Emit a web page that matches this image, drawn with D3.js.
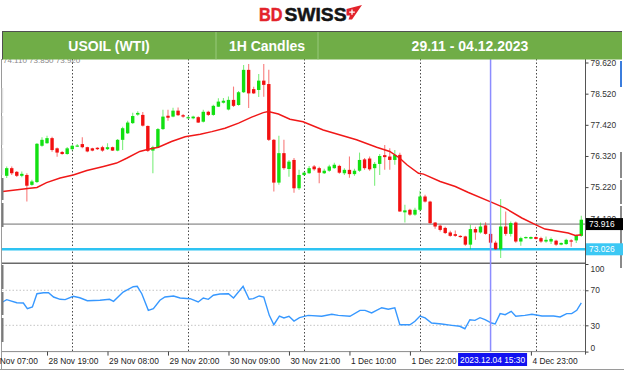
<!DOCTYPE html>
<html>
<head>
<meta charset="utf-8">
<script src="https://cdnjs.cloudflare.com/ajax/libs/d3/7.8.5/d3.min.js"></script>
<style>
  body { margin:0; background:#fff; }
</style>
</head>
<body>
<div id="chart"></div>
<script>
// USOIL (WTI) 1H candles, 28.11 - 05.12.2023

const headerCells = ["USOIL (WTI)", "1H Candles", "29.11 - 04.12.2023"];

const candleOpen = [75.62,75.89,75.76,75.62,75.65,75.30,75.40,76.68,76.77,76.95,76.59,76.46,76.39,76.56,76.66,76.74,76.63,76.59,76.61,76.63,
  76.56,76.63,76.51,76.89,77.12,77.48,77.78,77.77,77.38,76.51,76.63,77.27,77.74,77.71,77.92,77.76,77.67,77.65,77.69,77.53,
  77.88,77.77,78.06,78.20,77.96,78.30,78.12,78.57,79.36,78.68,78.65,78.98,78.86,76.89,75.38,76.42,75.86,76.18,75.18,75.65,
  75.71,75.95,75.89,75.71,75.80,75.89,75.97,75.71,75.83,75.68,75.80,76.20,76.23,75.89,76.04,76.35,76.30,76.18,76.36,74.33,
  74.42,74.25,74.42,74.89,74.71,73.97,73.86,73.78,73.62,73.56,73.50,73.48,73.19,73.74,73.62,73.87,73.57,73.26,73.03,73.83,
  73.57,73.97,73.30,73.42,73.40,73.46,73.42,73.30,73.30,73.33,73.19,73.21,73.34,73.34,73.50];
const candleHigh = [75.95,75.95,75.79,75.77,75.71,75.48,76.78,76.98,77.03,77.00,76.62,76.50,76.64,76.71,76.74,76.98,76.65,76.61,76.63,76.68,
  76.77,76.65,76.92,77.35,77.56,77.85,77.90,77.87,77.40,76.68,77.31,77.95,77.95,78.02,78.03,77.80,77.72,77.74,77.72,77.95,
  77.92,78.13,78.36,78.37,78.42,78.77,78.61,79.53,79.57,78.76,79.21,79.57,79.36,76.92,77.03,76.89,76.18,76.25,75.83,75.76,
  75.97,76.00,75.94,75.87,76.01,76.08,76.01,75.89,76.30,75.87,76.44,76.25,76.30,76.11,76.39,76.71,76.59,76.53,76.43,74.60,
  74.46,74.49,75.09,74.95,74.74,73.99,73.89,73.82,73.68,73.69,73.52,73.50,73.89,73.82,73.97,73.98,73.75,73.33,74.80,74.36,
  74.01,74.01,73.47,73.48,73.48,73.48,73.47,73.48,73.44,73.36,73.27,73.40,73.38,73.54,74.21];
const candleLow = [75.54,75.65,75.58,75.57,74.71,75.27,75.37,76.65,76.75,76.47,76.29,76.36,76.36,76.51,76.65,76.59,76.45,76.49,76.53,76.47,
  76.53,76.50,76.49,76.53,77.10,77.45,77.74,77.36,76.46,75.71,76.61,77.24,77.56,77.69,77.73,77.67,77.64,77.62,77.48,77.50,
  77.73,77.74,78.05,78.17,77.93,78.05,78.09,78.54,78.01,78.51,78.40,78.41,76.85,75.07,75.30,75.83,75.59,75.02,75.12,75.62,
  75.69,75.80,75.36,75.68,75.76,75.87,75.69,75.65,75.55,75.62,75.76,75.83,75.80,75.27,75.65,75.83,75.83,76.01,74.35,73.97,
  74.21,74.21,74.36,74.68,73.93,73.75,73.65,73.57,73.47,73.47,73.43,73.15,73.03,73.36,73.58,73.54,73.22,73.01,72.72,73.50,
  73.48,73.26,73.15,73.40,73.38,73.37,73.26,73.26,73.21,73.15,73.17,73.19,73.12,73.25,73.47];
const candleClose = [75.89,75.71,75.62,75.69,75.27,75.42,76.75,76.89,76.95,76.53,76.44,76.39,76.59,76.68,76.69,76.63,76.48,76.51,76.56,76.51,
  76.63,76.51,76.89,77.30,77.50,77.73,77.84,77.39,76.50,76.63,77.27,77.71,77.67,77.92,77.76,77.71,77.69,77.71,77.50,77.88,
  77.77,78.09,78.24,78.27,78.30,78.09,78.57,79.36,78.53,78.53,78.98,78.83,76.89,75.38,76.42,75.89,76.12,75.18,75.65,75.73,
  75.89,75.85,75.73,75.80,75.95,76.01,75.73,75.83,75.68,75.80,76.18,75.89,75.85,76.04,76.32,76.28,76.18,76.36,74.36,74.40,
  74.25,74.42,74.89,74.71,73.95,73.83,73.71,73.60,73.50,73.50,73.46,73.19,73.74,73.62,73.83,73.57,73.26,73.03,73.83,73.57,
  73.95,73.30,73.42,73.46,73.46,73.39,73.30,73.36,73.39,73.19,73.25,73.36,73.32,73.50,74.07];

// red moving average (candle index, price)
const maIdx = [-0.8,4.6,6,7.9,10.6,13.2,15.9,19.2,21.8,23.8,26.4,28.1,30.1,32.7,35.4,38.4,40.7,43.3,46,48.6,
  50.9,51.9,53.9,56.2,58.8,62.8,69.4,73.4,76,78,79.4,81.7,82.7,86,89,91.6,95.9,98.9,102.2,105,106.8,111.4,112.8,114];
const maVal = [75.07,75.18,75.21,75.38,75.54,75.65,75.81,75.95,76.07,76.24,76.48,76.56,76.63,76.83,77.00,77.09,77.18,77.30,77.48,77.69,
  77.85,77.89,77.80,77.62,77.53,77.24,76.89,76.63,76.48,76.24,76.01,75.71,75.68,75.42,75.24,75.03,74.71,74.48,74.13,73.89,73.74,73.60,73.51,73.54];

// RSI panel, points (candle index, value)
const rsiIdx = [-0.8,0,2,3.3,4.1,5.1,6,7.3,8.3,9.3,10.6,11.6,13.2,14.5,16,18.5,20.4,21.2,23.1,25.1,
  25.9,26.8,28.1,29.1,30.4,31.4,33.1,34.4,36.4,38,39,40,41,42.3,44,45,46.9,48.1,48.9,50.1,
  51,52.1,53,54.1,55,56,57,58.1,59.8,62.5,64.5,65.8,68.1,70.1,71.1,72.4,74.4,75.7,77,78,
  80,81,82,83,84.3,86.3,88.3,89.9,90.9,91.9,92.9,93.9,94.9,96.2,96.9,97.9,98.9,100.1,101,102.8,
  104.2,106.2,108.5,109.8,111.1,112.1,113.1,114];
const rsiVal = [56.6,59.3,55.8,55.5,49.0,50.9,66.1,67.2,67.2,62.3,59.7,59.3,63.1,61.5,58.1,58.6,59.7,57.4,68.0,74.1,
  74.5,66.1,47.1,49.0,58.6,62.3,63.5,61.2,60.4,56.6,61.2,59.7,64.3,65.8,66.1,61.2,74.5,59.7,60.4,63.5,
  62.3,41.4,30.7,40.6,38.4,40.3,34.9,38.7,41.4,40.3,42.6,41.4,40.3,47.1,47.1,44.1,50.1,48.3,50.1,30.7,
  30.7,34.6,40.6,38.4,32.6,31.5,30.0,28.9,26.1,36.4,35.7,38.7,36.4,32.6,31.5,43.3,42.1,46.0,40.3,41.4,
  42.6,40.6,40.6,39.5,43.3,43.3,47.1,55.5];

const priceTicks = [79.62, 78.52, 77.42, 76.32, 75.22, 74.12];
const rsiTicks = [100, 70, 30, 0];
const rsiLevels = [70, 30];
const lastPrice = 73.916;
const levelPrice = 73.026;
const ohlcInfo = "74.110 73.850 73.920";

const dayIdx = [13, 36, 59, 82, 105];
const timeIdx = [-4, 8, 20, 32, 44, 56, 68, 80, 104];
const timeLabels = ["28 Nov 07:00","28 Nov 19:00","29 Nov 08:00","29 Nov 20:00","30 Nov 09:00",
  "30 Nov 21:00","1 Dec 10:00","1 Dec 22:00","4 Dec 23:00"];
const crossIdx = 96;
const crossLabel = "2023.12.04 15:30";

// ---- layout
const W = 624, H = 375;
const L = 2, R = 585, mainT = 59, mainB = 263, rsiT = 264, rsiB = 351.6;
const FONT = "'Liberation Sans', Arial, sans-serif";
const UP = "#12e012", DN = "#f21010";

const svg = d3.select("#chart").append("svg")
  .attr("width", W).attr("height", H)
  .style("display","block").style("font-family", FONT);

svg.append("rect").attr("width",W).attr("height",H).attr("fill","#fff");

const defs = svg.append("defs");
defs.append("clipPath").attr("id","clipMain").append("rect")
  .attr("x",L).attr("y",mainT).attr("width",R-L).attr("height",mainB-mainT);
defs.append("clipPath").attr("id","clipRsi").append("rect")
  .attr("x",L).attr("y",rsiT).attr("width",R-L).attr("height",rsiB-rsiT);

const x = d3.scaleLinear().domain([0, 114]).range([6.7, 581.3]);
const y = d3.scaleLinear().domain([74.12, 79.62]).range([218.3, 62.5]);
const yR = d3.scaleLinear().domain([0, 100]).range([rsiB, rsiT]);

// small ohlc readout, half hidden under the header bar
svg.append("text").attr("x",3).attr("y",63).attr("fill","#8a8a8a")
  .style("font-size","8px").text(ohlcInfo);

// day separators
svg.append("g").selectAll("line").data(dayIdx).join("line")
  .attr("x1",d=>Math.round(x(d))+0.5).attr("x2",d=>Math.round(x(d))+0.5)
  .attr("y1",mainT).attr("y2",rsiB)
  .attr("stroke","#4a4a4a").attr("stroke-width",1).attr("stroke-dasharray","1.5,2");

// rsi dotted levels
svg.append("g").selectAll("line").data(rsiLevels).join("line")
  .attr("x1",L).attr("x2",R).attr("y1",d=>yR(d)).attr("y2",d=>yR(d))
  .attr("stroke","#c4c4c4").attr("stroke-dasharray","1.5,2");

const main = svg.append("g").attr("clip-path","url(#clipMain)");

// price lines
main.append("line").attr("x1",L).attr("x2",R).attr("y1",y(lastPrice)).attr("y2",y(lastPrice))
  .attr("stroke","#6e6e6e").attr("stroke-width",1);
main.append("line").attr("x1",L).attr("x2",R).attr("y1",y(levelPrice)).attr("y2",y(levelPrice))
  .attr("stroke","#2ec3f2").attr("stroke-width",2.6);

const candles = candleOpen.map((o,i)=>({i, o, h:candleHigh[i], l:candleLow[i], c:candleClose[i]}));

main.append("g").selectAll("line").data(candles).join("line")
  .attr("x1",d=>x(d.i)).attr("x2",d=>x(d.i))
  .attr("y1",d=>y(d.h)).attr("y2",d=>y(d.l))
  .attr("stroke",d=>d.c>=d.o?UP:DN).attr("stroke-opacity",0.55).attr("stroke-width",1.1);

main.append("g").selectAll("rect").data(candles).join("rect")
  .attr("x",d=>x(d.i)-1.7).attr("width",3.4)
  .attr("y",d=>y(Math.max(d.o,d.c)))
  .attr("height",d=>Math.max(1.2, Math.abs(y(d.o)-y(d.c))))
  .attr("fill",d=>d.c>=d.o?UP:DN);

// moving average
main.append("path").datum(maIdx.map((d,i)=>[d, maVal[i]]))
  .attr("d", d3.line().x(d=>x(d[0])).y(d=>y(d[1])))
  .attr("fill","none").attr("stroke","#f01818").attr("stroke-width",1.5);

// rsi line
svg.append("g").attr("clip-path","url(#clipRsi)").append("path")
  .datum(rsiIdx.map((d,i)=>[d, rsiVal[i]]))
  .attr("d", d3.line().x(d=>x(d[0])).y(d=>yR(d[1])))
  .attr("fill","none").attr("stroke","#3798ff").attr("stroke-width",1.4);

// frame lines
svg.append("line").attr("x1",L).attr("x2",R).attr("y1",263.3).attr("y2",263.3)
  .attr("stroke","#6a6a6a").attr("stroke-width",1.6);
svg.append("line").attr("x1",L).attr("x2",R).attr("y1",rsiB).attr("y2",rsiB)
  .attr("stroke","#8a8a8a");
svg.append("line").attr("x1",R+0.5).attr("x2",R+0.5).attr("y1",mainT).attr("y2",rsiB+3)
  .attr("stroke","#555");
svg.append("line").attr("x1",1.5).attr("x2",1.5).attr("y1",mainT).attr("y2",370)
  .attr("stroke","#9a9a9a");
svg.append("line").attr("x1",0).attr("x2",W).attr("y1",369.5).attr("y2",369.5)
  .attr("stroke","#9a9a9a");

// edge marks (scroll / panel markers)
const edgeG = svg.append("g");
[[178,200],[203,227],[265,289],[292,315],[318,342]].forEach(s=>{
  edgeG.append("line").attr("x1",2.5).attr("x2",2.5).attr("y1",s[0]).attr("y2",s[1])
    .attr("stroke","#7a7a7a").attr("stroke-width",2);
});
[[88,113],[116,145],[148,175]].forEach(s=>{
  edgeG.append("line").attr("x1",2.5).attr("x2",2.5).attr("y1",s[0]).attr("y2",s[1])
    .attr("stroke","#e2e2e2").attr("stroke-width",1.5);
});
edgeG.append("line").attr("x1",621).attr("x2",621).attr("y1",61).attr("y2",87)
  .attr("stroke","#3b7ddd").attr("stroke-width",2);
[[152,178],[180,204],[206,244],[246,268]].forEach(s=>{
  edgeG.append("line").attr("x1",621).attr("x2",621).attr("y1",s[0]).attr("y2",s[1])
    .attr("stroke","#8a8a8a").attr("stroke-width",2);
});

// crosshair
svg.append("line").attr("x1",x(crossIdx)).attr("x2",x(crossIdx))
  .attr("y1",mainT).attr("y2",rsiB)
  .attr("stroke","#8c8cff").attr("stroke-width",1.5);

// price axis
const axTxt = sel => sel.call(a=>a.select(".domain").remove())
  .call(a=>a.selectAll("line").attr("stroke","#444"))
  .call(a=>a.selectAll("text").attr("fill","#333").style("font-family",FONT).style("font-size","8.4px"));

svg.append("g").attr("transform",`translate(${R+0.5},0)`)
  .call(d3.axisRight(y).tickValues(priceTicks).tickSize(3).tickPadding(2).tickFormat(d3.format(".3f")))
  .call(axTxt);

svg.append("g").attr("transform",`translate(${R+0.5},0)`)
  .call(d3.axisRight(yR).tickValues(rsiTicks).tickSize(3).tickPadding(2))
  .call(axTxt)
  .call(a=>a.selectAll("text").attr("dy",d=>d===100?"0.85em":d===0?"-0.1em":"0.32em"));

// price tags
function tag(v, bg, fg) {
  const g = svg.append("g");
  g.append("rect").attr("x",R+1).attr("y",y(v)-6).attr("width",37).attr("height",12).attr("fill",bg);
  g.append("text").attr("x",R+4).attr("y",y(v)+3).attr("fill",fg)
    .style("font-size","8.4px").text(d3.format(".3f")(v));
}
tag(lastPrice, "#000", "#fff");
tag(levelPrice, "#3cc8f4", "#fff");

// time axis
svg.append("g").attr("transform",`translate(0,${rsiB})`)
  .call(d3.axisBottom(x).tickValues(timeIdx).tickSize(4).tickPadding(2).tickFormat((d,i)=>timeLabels[i]))
  .call(axTxt)
  .call(a=>a.selectAll("text").attr("text-anchor","start").attr("dx","1px").attr("fill","#222"));

// crosshair date box
const cx = x(crossIdx);
svg.append("rect").attr("x",cx-32.5).attr("y",353).attr("width",69).attr("height",13).attr("fill","#1212f0");
svg.append("text").attr("x",cx+2).attr("y",362.6).attr("text-anchor","middle").attr("fill","#fff")
  .style("font-size","8.4px").text(crossLabel);

// header bar
const cellX = [2, 216, 318, 622];
const hdr = svg.append("g");
hdr.append("rect").attr("x",2).attr("y",31.5).attr("width",620).attr("height",28).attr("fill","#70ad47");
hdr.append("line").attr("x1",2).attr("x2",622).attr("y1",31.5).attr("y2",31.5).attr("stroke","#505050");
hdr.append("line").attr("x1",2.5).attr("x2",2.5).attr("y1",31.5).attr("y2",59.5).attr("stroke","#505050");
hdr.selectAll("line.div").data(cellX.slice(1,3)).join("line").attr("class","div")
  .attr("x1",d=>d).attr("x2",d=>d).attr("y1",32).attr("y2",59.5)
  .attr("stroke","#98c97d").attr("stroke-width",1);
hdr.selectAll("text").data(headerCells).join("text")
  .attr("x",(d,i)=>(cellX[i]+cellX[i+1])/2).attr("y",51)
  .attr("text-anchor","middle").attr("fill","#fff")
  .style("font-size","14px").style("font-weight","bold").text(d=>d);

// logo
const logo = svg.append("g");
logo.append("text").attr("x",259).attr("y",20.7).attr("fill","#e3232b")
  .attr("textLength",23.5).attr("lengthAdjust","spacingAndGlyphs")
  .attr("stroke","#e3232b").attr("stroke-width",0.5)
  .style("font-size","19px").style("font-weight","bold").text("BD");
logo.append("text").attr("x",284.5).attr("y",20.7).attr("fill","#151515")
  .attr("textLength",62).attr("lengthAdjust","spacingAndGlyphs")
  .attr("stroke","#151515").attr("stroke-width",0.5)
  .style("font-size","19px").style("font-weight","bold").text("SWISS");
logo.append("path").attr("d","M346.5,9 L362,5 L352,19.5 L348.5,19.5 L350,15.5 L346.5,15.5 Z").attr("fill","#e3232b");
logo.append("path").attr("d","M349.2,12.2 H354.8 M352,9.6 V14.8").attr("stroke","#fff").attr("stroke-width",1.3);
</script>
</body>
</html>
